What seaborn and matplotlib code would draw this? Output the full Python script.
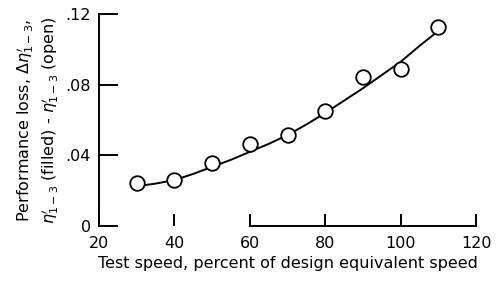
import numpy as np
import pandas as pd
import seaborn as sns
import matplotlib
matplotlib.use('Agg')
import matplotlib.pyplot as plt

# measured points (open circles)
speed = [30, 40, 50, 60, 70, 80, 90, 100, 110]
loss = [0.0243, 0.026, 0.0355, 0.0462, 0.0515, 0.065, 0.0843, 0.0888, 0.1126]

# faired curve
curve_speed = [30, 35, 40, 45, 50, 55, 60, 65, 70, 75, 80, 85, 90, 95, 100, 105, 110]
curve_loss = [0.0225, 0.024, 0.026, 0.0295, 0.0335, 0.0375, 0.042, 0.0465, 0.0515,
              0.0575, 0.064, 0.071, 0.078, 0.0855, 0.093, 0.102, 0.1105]

x_ticks = [20, 40, 60, 80, 100, 120]
y_ticks = [0, 0.04, 0.08, 0.12]
y_labels = ['0', '.04', '.08', '.12']

sns.set_style('ticks')
plt.rcParams['font.family'] = ['DejaVu Sans']
plt.rcParams['mathtext.fontset'] = 'dejavusans'
plt.rcParams['text.color'] = 'black'
plt.rcParams['axes.labelcolor'] = 'black'
plt.rcParams['xtick.color'] = 'black'
plt.rcParams['ytick.color'] = 'black'
plt.rcParams['axes.edgecolor'] = 'black'

pts = pd.DataFrame({'speed': speed, 'loss': loss})
crv = pd.DataFrame({'speed': curve_speed, 'loss': curve_loss})

fig = plt.figure(figsize=(4.96, 2.81), dpi=100)
ax = fig.add_axes([0.1996, 0.1957, 0.7605, 0.7545])

sns.lineplot(x='speed', y='loss', data=crv, color='black', linewidth=1.4, ax=ax)
sns.scatterplot(x='speed', y='loss', data=pts, marker='o', s=110, facecolor='white',
                edgecolor='black', linewidth=1.3, zorder=3, ax=ax)

ax.set_xlim(20, 120)
ax.set_ylim(0, 0.12)
ax.set_xticks(x_ticks)
ax.set_yticks(y_ticks)
ax.set_yticklabels(y_labels)
ax.tick_params(axis='x', direction='in', length=9, width=1.4, labelsize=11.5, pad=7)
ax.tick_params(axis='y', direction='in', length=14, width=1.4, labelsize=11.5, pad=6)

for s in ['top', 'right']:
    ax.spines[s].set_visible(False)
ax.spines['left'].set_linewidth(1.4)
ax.spines['bottom'].set_linewidth(1.4)
ax.spines['bottom'].set_bounds(60, 120)

ax.set_xlabel('Test speed, percent of design equivalent speed', fontsize=11.5, labelpad=4)
ax.set_ylabel('Performance loss, $\\Delta\\eta^{\\prime}_{1-3}$,\n'
              '$\\eta^{\\prime}_{1-3}$ (filled) - $\\eta^{\\prime}_{1-3}$ (open)',
              fontsize=11.5, labelpad=3, linespacing=1.2)

plt.savefig('out.png', dpi=100)
